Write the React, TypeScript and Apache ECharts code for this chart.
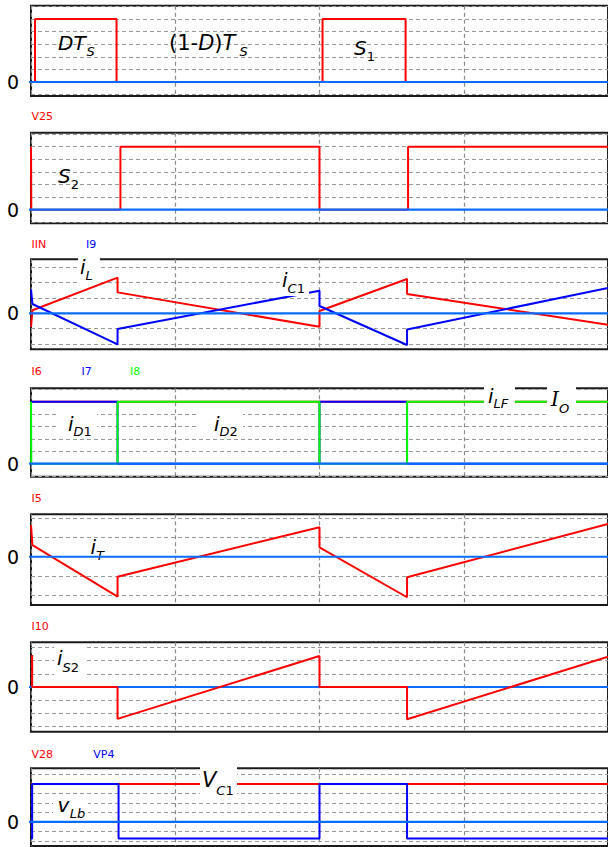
import React, { useEffect, useRef } from "react";
import * as echarts from "echarts";

// ---------- colours ----------
const RED = "#ff0000";
const BLUE = "#0000ff";
const GREEN = "#00ff00";
const ZERO_BLUE = "#0a6cff";

// ---------- time axis (one grid division = 1 unit, switching period = 2) ----------
const T_MIN = 0;
const T_MAX = 4;
const T_STEP = 1;

// ---------- panel 1 : S1 gate ----------
const s1Gate: [number, number][] = [
  [0, 0], [0.028, 0], [0.028, 5], [0.593, 5], [0.593, 0],
  [2.021, 0], [2.021, 5], [2.597, 5], [2.597, 0], [4, 0],
];
// ---------- panel 2 : V25 (S2 gate) ----------
const v25: [number, number][] = [
  [0, 5], [0.002, 5], [0.002, 0], [0.62, 0], [0.62, 5], [2.0, 5],
  [2.0, 0], [2.614, 0], [2.614, 5], [4, 5],
];
// ---------- panel 3 : IIN (iL), I9 (iC1) ----------
const iin: [number, number][] = [
  [0, -0.9], [0.01, 0.2], [0.6, 2.33], [0.6, 1.37], [2.0, -0.88],
  [2.0, 0.15], [2.607, 2.24], [2.607, 1.26], [4, -0.75],
];
const i9: [number, number][] = [
  [0, 1.57], [0.01, 0.61], [0.6, -2.03], [0.6, -1.03], [2.0, 1.48],
  [2.0, 0.48], [2.607, -2.07], [2.607, -1.05], [4, 1.65],
];
// ---------- panel 4 : I6 (iLF), I7 (iD1), I8 (iD2) ----------
const i6: [number, number][] = [[0, 5], [4, 5]];
const i7: [number, number][] = [
  [0, 5], [0.6, 5], [0.6, 0], [2.0, 0], [2.0, 5], [2.607, 5], [2.607, 0], [4, 0],
];
const i8: [number, number][] = [
  [0, 5], [0.002, 0], [0.6, 0], [0.6, 5], [2.0, 5], [2.0, 0],
  [2.607, 0], [2.607, 5], [4, 5],
];
// ---------- panel 5 : I5 (iT) ----------
const i5: [number, number][] = [
  [0, 1.63], [0.01, 0.6], [0.6, -2.06], [0.6, -1.03], [2.0, 1.52],
  [2.0, 0.48], [2.607, -2.09], [2.607, -1.06], [4, 1.69],
];
// ---------- panel 6 : I10 (iS2) ----------
const i10: [number, number][] = [
  [0.008, 2.42], [0.008, 0], [0.6, 0], [0.6, -2.42], [2.0, 2.35],
  [2.0, 0], [2.607, 0], [2.607, -2.45], [4, 2.3],
];
// ---------- panel 7 : V28 (VC1), VP4 (vLb) ----------
const v28: [number, number][] = [[0, 4], [4, 4]];
const vp4: [number, number][] = [
  [0, -1.77], [0.008, -1.77], [0.008, 4], [0.607, 4], [0.607, -1.77],
  [2.0, -1.77], [2.0, 4], [2.607, 4], [2.607, -1.77], [4, -1.77],
];
// zero reference line (starts a little left of the frame)
const zeroRef: [number, number][] = [[-0.041, 0], [4, 0]];

// horizontal grid levels of each panel
const levels1 = [-1, 1, 2, 3, 4, 5, 6];
const levels2 = [-1, 1, 2, 3, 4, 5, 6];
const levels3 = [-2, -1, 1, 2, 3];
const levels4 = [-1, 1, 2, 3, 4, 5, 6];
const levels5 = [-2, -1, 1, 2];
const levels6 = [-3, -2, -1, 1, 2, 3];
const levels7 = [-2, -1, 1, 2, 3, 4, 5];

// ---------- layout ----------
const PANELS = [
  { top: 5.7, bottom: 96, min: -1.11, max: 6.06, levels: levels1, zeroTop: true,
    traces: [{ name: "S1", data: s1Gate, color: RED }], tags: [] },
  { top: 132.7, bottom: 223.3, min: -1.08, max: 6.11, levels: levels2, zeroTop: true,
    traces: [{ name: "V25", data: v25, color: RED }],
    tags: [{ t: "V25", c: RED, x: 31.5 }] },
  { top: 259.3, bottom: 349.3, min: -2.35, max: 3.53, levels: levels3, zeroTop: true,
    traces: [{ name: "IIN", data: iin, color: RED }, { name: "I9", data: i9, color: BLUE }],
    tags: [{ t: "IIN", c: RED, x: 31.5 }, { t: "I9", c: BLUE, x: 86 }] },
  { top: 388.3, bottom: 476.7, min: -1.05, max: 6.08, levels: levels4, zeroTop: true,
    traces: [{ name: "I6", data: i6, color: RED }, { name: "I7", data: i7, color: BLUE }, { name: "I8", data: i8, color: GREEN }],
    tags: [{ t: "I6", c: RED, x: 31.5 }, { t: "I7", c: BLUE, x: 81.5 }, { t: "I8", c: GREEN, x: 130 }] },
  { top: 514.3, bottom: 605, min: -2.49, max: 2.19, levels: levels5, zeroTop: true,
    traces: [{ name: "I5", data: i5, color: RED }],
    tags: [{ t: "I5", c: RED, x: 31.5 }] },
  { top: 642.3, bottom: 731.7, min: -3.39, max: 3.39, levels: levels6, zeroTop: false,
    traces: [{ name: "I10", data: i10, color: RED }],
    tags: [{ t: "I10", c: RED, x: 31.5 }] },
  { top: 768.3, bottom: 846, min: -2.55, max: 5.65, levels: levels7, zeroTop: true,
    traces: [{ name: "V28", data: v28, color: RED }, { name: "VP4", data: vp4, color: BLUE }],
    tags: [{ t: "V28", c: RED, x: 31.5 }, { t: "VP4", c: BLUE, x: 93.3 }] },
];
const TAG_Y = [0, 116, 244.5, 371.5, 498.7, 626, 754];

// math annotations: runs laid out left to right (at = fixed left edge)
type Run = { s: string; it?: boolean; sub?: boolean; size?: number; fam?: string; gap?: number; at?: number };
const LABELS: { x: number; y: number; dy?: number; runs: Run[]; bg?: number[]; z?: number }[] = [
  { x: 58, y: 42.5, dy: 8.8, runs: [{ s: "DT", it: true, gap: 1 }, { s: "S", it: true, sub: true }] },
  { x: 169, y: 43, dy: 8.5, runs: [
    { s: "(1", size: 21 }, { s: "-", size: 21 }, { s: "D", it: true, size: 21 },
    { s: ")", size: 21 }, { s: "T", it: true, size: 21 }, { s: "S", it: true, sub: true, at: 239.5 },
  ] },
  { x: 354, y: 48, dy: 8.3, runs: [{ s: "S", it: true }, { s: "1", sub: true }] },
  { x: 58, y: 175.5, dy: 9, runs: [{ s: "S", it: true }, { s: "2", sub: true }] },
  { x: 80, y: 267, dy: 8.5, runs: [{ s: "i", it: true }, { s: "L", it: true, sub: true }], bg: [78, 256, 22, 27] },
  { x: 282, y: 279.7, dy: 8.6, runs: [{ s: "i", it: true }, { s: "C", it: true, sub: true }, { s: "1", sub: true }], bg: [280, 269, 29, 27] },
  { x: 68, y: 424, dy: 7.5, runs: [{ s: "i", it: true }, { s: "D", it: true, sub: true }, { s: "1", sub: true }], bg: [58, 411, 39, 27] },
  { x: 214, y: 424, dy: 7.5, runs: [{ s: "i", it: true }, { s: "D", it: true, sub: true }, { s: "2", sub: true }], bg: [197, 411, 46, 27] },
  { x: 488, y: 395.8, dy: 7.5, runs: [{ s: "i", it: true }, { s: "LF", it: true, sub: true }], bg: [484, 383, 31, 28] },
  { x: 551, y: 399.2, dy: 9, runs: [{ s: "I", it: true, fam: '"DejaVu Serif"' }, { s: "O", it: true, sub: true }], bg: [547, 383, 29, 32] },
  { x: 90.5, y: 546.8, dy: 8.2, runs: [{ s: "i", it: true }, { s: "T", it: true, sub: true }], z: 1 },
  { x: 57, y: 657.7, dy: 10, runs: [{ s: "i", it: true }, { s: "S", it: true, sub: true }, { s: "2", sub: true }], bg: [54, 645, 32, 32] },
  { x: 57.5, y: 805, dy: 8, runs: [{ s: "v", it: true, gap: 0.5 }, { s: "L", it: true, sub: true }, { s: "b", it: true, sub: true }], bg: [53, 795, 35, 25] },
  { x: 202, y: 780, dy: 10, runs: [{ s: "V", it: true, size: 21 }, { s: "C", it: true, sub: true }, { s: "1", sub: true }], bg: [200, 766, 37, 32] },
];

const GRID_LEFT = 31;
const GRID_RIGHT = -3;
const MAIN_SIZE = 20;
const SUB_SIZE = 13;

export default function App() {
  const ref = useRef<HTMLDivElement>(null);
  useEffect(() => {
    const el = ref.current!;
    const chart = echarts.init(el, null, { renderer: "svg" });
    const canvas = document.createElement("canvas");
    const ctx = canvas.getContext("2d")!;
    const measure = (s: string, font: string) => {
      ctx.font = font;
      return ctx.measureText(s).width;
    };

    const grids: any[] = [];
    const xAxes: any[] = [];
    const yAxes: any[] = [];
    const series: any[] = [];
    const elements: any[] = [];

    PANELS.forEach((p, i) => {
      grids.push({
        left: GRID_LEFT, right: GRID_RIGHT, top: p.top, height: p.bottom - p.top,
        show: true, borderColor: "#1a1a1a", borderWidth: 2, backgroundColor: "#fff",
      });
      xAxes.push({
        type: "value", gridIndex: i, min: T_MIN, max: T_MAX, interval: T_STEP,
        axisLine: { show: false }, axisTick: { show: false }, axisLabel: { show: false },
        splitLine: { show: true, lineStyle: { color: "#8a8a8a", type: [4, 3], width: 1.2 } },
      });
      yAxes.push({
        type: "value", gridIndex: i, min: p.min, max: p.max,
        axisLine: { show: false }, axisTick: { show: false }, splitLine: { show: false },
        axisLabel: {
          customValues: [0], color: "#000", fontSize: 19, fontFamily: "DejaVu Sans", margin: 12,
        },
      });
      series.push({
        type: "lines", coordinateSystem: "cartesian2d", xAxisIndex: i, yAxisIndex: i,
        silent: true, z: 1, symbol: ["none", "none"],
        lineStyle: { color: "#9a9a9a", type: [4, 3], width: 1.2, opacity: 1 },
        data: p.levels.map((v) => ({ coords: [[T_MIN, v], [T_MAX, v]] })),
      });
      p.traces.forEach((tr, k) => {
        series.push({
          type: "line", name: tr.name, xAxisIndex: i, yAxisIndex: i, data: tr.data,
          showSymbol: false, symbol: "none", silent: true, z: 3 + k,
          lineStyle: { color: tr.color, width: 2 }, itemStyle: { color: tr.color },
        });
      });
      series.push({
        type: "line", xAxisIndex: i, yAxisIndex: i, data: zeroRef, clip: false,
        showSymbol: false, symbol: "none", silent: true, z: p.zeroTop ? 10 : 2,
        lineStyle: { color: ZERO_BLUE, width: 2.2 },
      });
      p.tags.forEach((tg) => {
        elements.push({
          type: "text", x: tg.x, y: TAG_Y[i], z: 60, silent: true,
          style: {
            text: tg.t, fill: tg.c, font: '11px "DejaVu Sans"',
            align: "left", verticalAlign: "middle", textAlign: "left", textVerticalAlign: "middle",
          },
        });
      });
    });

    LABELS.forEach((lb) => {
      if (lb.bg) {
        elements.push({
          type: "rect", z: 50, silent: true,
          shape: { x: lb.bg[0], y: lb.bg[1], width: lb.bg[2], height: lb.bg[3] },
          style: { fill: "#fff" },
        });
      }
      let x = lb.x;
      lb.runs.forEach((r) => {
        const size = r.size ?? (r.sub ? SUB_SIZE : MAIN_SIZE);
        const font = `${r.it ? "italic " : ""}${size}px ${r.fam ?? '"DejaVu Sans"'}`;
        if (r.at !== undefined) x = r.at;
        elements.push({
          type: "text", x, y: lb.y + (r.sub ? lb.dy ?? 8.5 : 0), z: lb.z ?? 51, silent: true,
          style: {
            text: r.s, font, fill: "#000",
            align: "left", verticalAlign: "middle", textAlign: "left", textVerticalAlign: "middle",
          },
        });
        x += measure(r.s, font) + (r.gap ?? 0);
      });
    });

    chart.setOption({
      animation: false,
      backgroundColor: "#fff",
      grid: grids,
      xAxis: xAxes,
      yAxis: yAxes,
      series,
      graphic: { elements },
    });
    return () => chart.dispose();
  }, []);

  return (
    <div
      ref={ref}
      style={{ position: "absolute", left: 0, top: 0, width: 608, height: 847, background: "#fff" }}
    />
  );
}
